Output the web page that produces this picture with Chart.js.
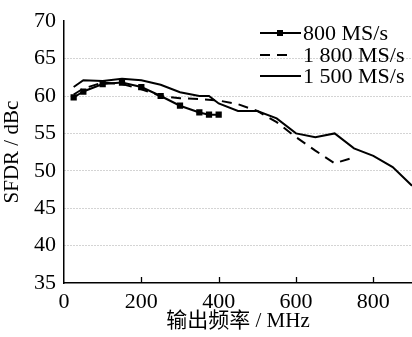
<!DOCTYPE html>
<html>
<head>
<meta charset="utf-8">
<script src="https://cdn.jsdelivr.net/npm/chart.js@4.4.0/dist/chart.umd.min.js"></script>
<style>
html, body { margin: 0; padding: 0; background: #fff; }
</style>
</head>
<body>
<canvas id="myChart" width="412" height="337"></canvas>
<script>
// 800 MS/s
var freq800 = [25, 50, 100, 150, 200, 250, 300, 350, 375, 400];
var sfdr800 = [59.8, 60.6, 61.6, 61.8, 61.2, 60.0, 58.7, 57.8, 57.5, 57.5];
// 1 800 MS/s
var freq1800 = [25, 50, 100, 150, 200, 250, 300, 350, 400, 450, 500, 550, 600, 650, 700, 750];
var sfdr1800 = [60.2, 61.0, 61.8, 61.6, 60.9, 60.0, 59.7, 59.6, 59.4, 58.9, 58.0, 56.5, 54.5, 52.7, 51.0, 51.8];
// 1 500 MS/s
var freq1500 = [25, 50, 100, 150, 200, 250, 300, 350, 375, 400, 450, 500, 550, 600, 650, 700, 750, 800, 850, 900];
var sfdr1500 = [61.2, 62.1, 62.0, 62.3, 62.1, 61.5, 60.5, 60.0, 60.0, 59.0, 58.0, 58.0, 57.0, 55.0, 54.5, 55.0, 53.0, 52.0, 50.5, 48.0];

var seriesNames = ['800 MS/s', '1 800 MS/s', '1 500 MS/s'];
var xTicks = [0, 200, 400, 600, 800];
var yTicks = [35, 40, 45, 50, 55, 60, 65, 70];

var serif = "'Liberation Serif', 'Noto Sans CJK SC', serif";

function toPoints(xs, ys) {
    var pts = [];
    for (var i = 0; i < xs.length; i++) {
        pts.push({ x: xs[i], y: ys[i] });
    }
    return pts;
}

// inward tick marks on the x axis + legend in the top right corner
var extras = {
    id: 'extras',
    afterDraw: function (chart) {
        var ctx = chart.ctx;
        var xs = chart.scales.x;
        var bottom = chart.chartArea.bottom;
        ctx.save();
        ctx.strokeStyle = '#000';
        ctx.lineWidth = 1.3;
        xTicks.forEach(function (v) {
            if (v === 0) return;
            var px = Math.round(xs.getPixelForValue(v)) + 0.5;
            ctx.beginPath();
            ctx.moveTo(px, bottom);
            ctx.lineTo(px, bottom - 6);
            ctx.stroke();
        });

        var rows = [33, 55, 76];
        ctx.font = '22px ' + serif;
        ctx.fillStyle = '#000';
        ctx.textBaseline = 'middle';
        ctx.lineWidth = 2;
        for (var i = 0; i < 3; i++) {
            var y = rows[i];
            ctx.setLineDash(i === 1 ? [10, 7] : []);
            ctx.beginPath();
            ctx.moveTo(260, y);
            ctx.lineTo(i === 1 ? 292 : 301, y);
            ctx.stroke();
            ctx.setLineDash([]);
            if (i === 0) {
                ctx.fillRect(277, y - 3, 6, 6);
            }
            ctx.fillText(seriesNames[i], 303, y + 1);
        }
        ctx.restore();
    }
};

var ctx1 = document.getElementById('myChart').getContext('2d');
var myChart = new Chart(ctx1, {
    type: 'line',
    data: {
        datasets: [{
            label: seriesNames[0],
            data: toPoints(freq800, sfdr800),
            borderColor: '#000',
            backgroundColor: '#000',
            borderWidth: 2,
            pointStyle: 'rect',
            pointRadius: 3,
            tension: 0
        }, {
            label: seriesNames[1],
            data: toPoints(freq1800, sfdr1800),
            borderColor: '#000',
            borderWidth: 2,
            borderDash: [10, 7],
            pointRadius: 0,
            tension: 0
        }, {
            label: seriesNames[2],
            data: toPoints(freq1500, sfdr1500),
            borderColor: '#000',
            borderWidth: 2,
            pointRadius: 0,
            tension: 0
        }]
    },
    options: {
        responsive: false,
        animation: false,
        devicePixelRatio: 1,
        layout: { autoPadding: false, padding: { top: 16, right: 0, left: 0, bottom: 0 } },
        plugins: {
            legend: { display: false },
            tooltip: { enabled: false }
        },
        scales: {
            x: {
                type: 'linear',
                min: 0,
                max: 900,
                afterBuildTicks: function (scale) {
                    scale.ticks = xTicks.map(function (v) { return { value: v }; });
                },
                afterFit: function (scale) {
                    scale.height = 54;
                    scale.paddingRight = 0;
                },
                grid: { display: false },
                border: { display: true, color: '#000', width: 1.5 },
                ticks: {
                    color: '#000',
                    font: { family: serif, size: 22 },
                    padding: -2,
                    maxRotation: 0
                },
                title: {
                    display: true,
                    text: '输出频率 / MHz',
                    color: '#000',
                    font: { family: serif, size: 21 },
                    padding: { top: 0, bottom: 3 }
                }
            },
            y: {
                min: 35,
                max: 70,
                afterBuildTicks: function (scale) {
                    scale.ticks = yTicks.map(function (v) { return { value: v }; });
                },
                afterFit: function (scale) { scale.width = 64; },
                grid: {
                    drawTicks: false,
                    lineWidth: 1,
                    color: function (c) {
                        var v = c.tick ? c.tick.value : 0;
                        return (v > 35 && v < 70) ? '#a8a8a8' : 'rgba(0,0,0,0)';
                    }
                },
                border: { display: true, color: '#000', width: 1.5, dash: [1, 2] },
                ticks: {
                    color: '#000',
                    font: { family: serif, size: 22 },
                    padding: 8
                },
                title: {
                    display: true,
                    text: 'SFDR / dBc',
                    color: '#000',
                    font: { family: serif, size: 21 },
                    padding: { top: 0, bottom: 0 }
                }
            }
        }
    },
    plugins: [extras]
});
</script>
</body>
</html>
